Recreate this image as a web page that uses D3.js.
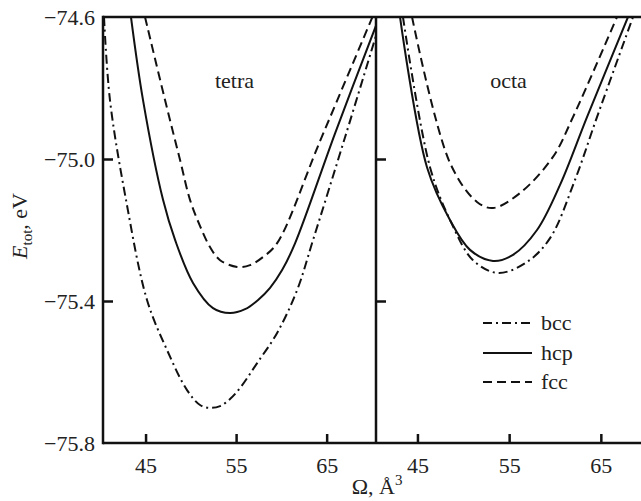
<!DOCTYPE html>
<html>
<head>
<meta charset="utf-8">
<script src="https://cdn.jsdelivr.net/npm/d3@7"></script>
<style>
  body { margin: 0; background: #fff; }
  svg text { font-family: "Liberation Serif", "DejaVu Serif", serif; fill: #222; }
</style>
</head>
<body>
<svg id="chart" width="641" height="501"></svg>
<script>
// Energy curves E_tot(Omega)
const tetraBcc = [[40.41,-74.60],[41.07,-74.834],[42.84,-75.115],[45.16,-75.397],[47.37,-75.538],[49.58,-75.651],[51.02,-75.693],[52.12,-75.701],[53.23,-75.696],[54.33,-75.676],[55.44,-75.645],[57.32,-75.575],[59.53,-75.490],[61.74,-75.369],[63.50,-75.228],[67.04,-74.938],[70.47,-74.651]];
const tetraHcp = [[43.39,-74.60],[44.72,-74.834],[46.93,-75.115],[48.26,-75.228],[50.24,-75.349],[52.45,-75.420],[54.33,-75.434],[55.99,-75.423],[57.43,-75.397],[58.75,-75.363],[60.08,-75.313],[61.52,-75.237],[65.94,-74.927],[70.47,-74.623]];
const tetraFcc = [[44.94,-74.60],[47.15,-74.834],[48.81,-75.003],[49.91,-75.115],[51.02,-75.189],[52.12,-75.248],[53.23,-75.285],[55.11,-75.304],[56.54,-75.299],[57.98,-75.276],[59.53,-75.237],[64.28,-74.949],[70.47,-74.575]];

const octaBcc = [[43.42,-74.60],[46.37,-75.023],[48.7,-75.18],[51.06,-75.285],[53.78,-75.321],[56.95,-75.290],[59.46,-75.223],[62.18,-75.059],[64.58,-74.882],[68.51,-74.60]];
const octaHcp = [[43.10,-74.60],[46.04,-75.023],[48.55,-75.172],[50.73,-75.256],[53.24,-75.287],[55.42,-75.270],[58.04,-75.200],[60.55,-75.073],[63.49,-74.882],[67.96,-74.60]];
const octaFcc = [[44.41,-74.60],[48.55,-75.011],[51.49,-75.121],[53.24,-75.138],[56.18,-75.096],[59.78,-74.994],[61.96,-74.882],[66.76,-74.60]];

const yTicks = [-74.6, -75.0, -75.4, -75.8];
const xTicks = [45, 55, 65];
const seriesNames = ["bcc", "hcp", "fcc"];

const svg = d3.select("#chart");
const plotTop = 17, plotBottom = 443;
const leftX0 = 103, divX = 376, rightX1 = 641;

const y = d3.scaleLinear().domain([-75.8, -74.6]).range([plotBottom, plotTop]);
const xL = d3.scaleLinear().domain([40.3, 70.45]).range([leftX0, divX]);
const xR = d3.scaleLinear().domain([40.48, 69.38]).range([divX, rightX1]);

const dashes = { bcc: "9,4,2,4", hcp: null, fcc: "9,5" };

// clip paths per panel
const defs = svg.append("defs");
defs.append("clipPath").attr("id", "clipL").append("rect")
  .attr("x", leftX0).attr("y", plotTop).attr("width", divX - leftX0).attr("height", plotBottom - plotTop);
defs.append("clipPath").attr("id", "clipR").append("rect")
  .attr("x", divX).attr("y", plotTop).attr("width", rightX1 - divX).attr("height", plotBottom - plotTop);

function drawPanel(x, clipId, data, label) {
  const line = d3.line()
    .x(d => x(d[0]))
    .y(d => y(d[1]))
    .curve(d3.curveCatmullRom.alpha(0.5));
  const g = svg.append("g").attr("clip-path", `url(#${clipId})`);
  seriesNames.forEach((name, i) => {
    g.append("path")
      .datum(data[i])
      .attr("d", line)
      .attr("fill", "none")
      .attr("stroke", "#111")
      .attr("stroke-width", 2)
      .attr("stroke-dasharray", dashes[name]);
  });

  // bottom ticks (inward) + labels
  const xa = d3.axisBottom(x).tickValues(xTicks).tickSizeInner(-9).tickSizeOuter(0).tickPadding(14);
  const ax = svg.append("g").attr("transform", `translate(0,${plotBottom})`).call(xa);
  ax.select(".domain").remove();
  ax.selectAll("line").attr("stroke", "#111").attr("stroke-width", 2.5);
  ax.selectAll("text").attr("font-size", 22).attr("font-family", "Liberation Serif").attr("fill", "#222");

  // left-side inward ticks
  const ya = d3.axisRight(y).tickValues([-75.0, -75.4]).tickSize(10).tickFormat("");
  const ay = svg.append("g").attr("transform", `translate(${x.range()[0]},0)`).call(ya);
  ay.select(".domain").remove();
  ay.selectAll("line").attr("stroke", "#111").attr("stroke-width", 2.5);

  svg.append("text")
    .attr("x", (x.range()[0] + x.range()[1]) / 2 - (clipId === "clipL" ? 5 : 0))
    .attr("y", 88)
    .attr("text-anchor", "middle")
    .attr("font-size", 22)
    .text(label);
}

drawPanel(xL, "clipL", [tetraBcc, tetraHcp, tetraFcc], "tetra");
drawPanel(xR, "clipR", [octaBcc, octaHcp, octaFcc], "octa");

// frame
const frame = svg.append("g").attr("stroke", "#111").attr("stroke-width", 2.5).attr("fill", "none");
frame.append("line").attr("x1", leftX0).attr("x2", rightX1).attr("y1", plotTop).attr("y2", plotTop);
frame.append("line").attr("x1", leftX0).attr("x2", rightX1).attr("y1", plotBottom).attr("y2", plotBottom);
frame.append("line").attr("x1", leftX0).attr("x2", leftX0).attr("y1", plotTop - 1.25).attr("y2", plotBottom + 1.25);
frame.append("line").attr("x1", divX).attr("x2", divX).attr("y1", plotTop).attr("y2", plotBottom);

// y tick labels
svg.append("g").selectAll("text")
  .data(yTicks)
  .join("text")
  .attr("x", 95)
  .attr("y", d => y(d) + 8)
  .attr("text-anchor", "end")
  .attr("font-size", 22)
  .text(d => "\u2212" + Math.abs(d).toFixed(1));

// axis titles
const yt = svg.append("text")
  .attr("transform", "translate(27,226) rotate(-90)")
  .attr("text-anchor", "middle")
  .attr("font-size", 22);
yt.append("tspan").attr("font-style", "italic").text("E");
yt.append("tspan").attr("font-size", 15).attr("dy", 5).text("tot");
yt.append("tspan").attr("dy", -5).text(", eV");

const xt = svg.append("text")
  .attr("x", 377)
  .attr("y", 494)
  .attr("text-anchor", "middle")
  .attr("font-size", 22);
xt.append("tspan").text("\u03A9, \u00C5");
xt.append("tspan").attr("font-size", 15).attr("dy", -9).text("3");

// legend
const legendY = [323, 353, 382];
const lg = svg.append("g");
seriesNames.forEach((name, i) => {
  lg.append("line")
    .attr("x1", 483).attr("x2", 532)
    .attr("y1", legendY[i]).attr("y2", legendY[i])
    .attr("stroke", "#111").attr("stroke-width", 2)
    .attr("stroke-dasharray", dashes[name]);
  lg.append("text")
    .attr("x", 541).attr("y", legendY[i] + 7)
    .attr("font-size", 22)
    .text(name);
});
</script>
</body>
</html>
